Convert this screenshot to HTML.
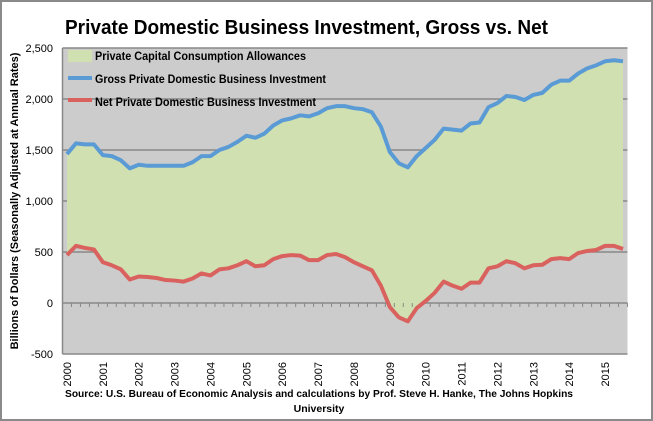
<!DOCTYPE html>
<html><head><meta charset="utf-8"><style>
body{margin:0;background:#fff}
svg{display:block;font-family:"Liberation Sans",sans-serif}
</style></head><body>
<svg width="653" height="421">
<rect x="1" y="1" width="651" height="419" fill="#fff" stroke="#8a8a8a" stroke-width="2"/>
<text x="65" y="34" font-size="20" font-weight="bold" fill="#000" textLength="483" lengthAdjust="spacingAndGlyphs">Private Domestic Business Investment, Gross vs. Net</text>
<rect x="62.5" y="48" width="565" height="306" fill="#cccccc"/>
<g id="grid"></g>
<path id="area" fill="#d0e0b0"/>
<g id="axes"></g>
<polyline id="gross" fill="none" stroke="#5b9bd5" stroke-width="4" stroke-linejoin="round"/>
<polyline id="net" fill="none" stroke="#d9625e" stroke-width="4" stroke-linejoin="round"/>
<g>
<rect x="68" y="50" width="24" height="12" fill="#d0e0b0"/>
<text x="95" y="60" font-size="12" font-weight="bold" textLength="211" lengthAdjust="spacingAndGlyphs">Private Capital Consumption Allowances</text>
<line x1="68" y1="78" x2="92" y2="78" stroke="#5b9bd5" stroke-width="4"/>
<text x="95" y="83" font-size="12" font-weight="bold" textLength="231" lengthAdjust="spacingAndGlyphs">Gross Private Domestic Business Investment</text>
<line x1="68" y1="100" x2="92" y2="100" stroke="#d9625e" stroke-width="4"/>
<text x="95" y="106" font-size="12" font-weight="bold" textLength="221" lengthAdjust="spacingAndGlyphs">Net Private Domestic Business Investment</text>
</g>
<text transform="translate(18,201) rotate(-90)" text-anchor="middle" font-size="11" font-weight="bold">Billions of Dollars (Seasonally Adjusted at Annual Rates)</text>
<text x="319" y="397" text-anchor="middle" font-size="10.5" font-weight="bold" textLength="508" lengthAdjust="spacingAndGlyphs">Source: U.S. Bureau of Economic Analysis and calculations by Prof. Steve H. Hanke, The Johns Hopkins</text>
<text x="319" y="412" text-anchor="middle" font-size="10.5" font-weight="bold">University</text>
</svg>
<script>
const years=['2000','2001','2002','2003','2004','2005','2006','2007','2008','2009','2010','2011','2012','2013','2014','2015'];
const yTicks=[-500,0,500,1000,1500,2000,2500];
const yTickLabels=['-500','0','500','1,000','1,500','2,000','2,500'];
const gross=[1460,1565,1555,1555,1450,1440,1400,1320,1355,1345,1345,1345,1345,1345,1380,1440,1440,1500,1530,1580,1640,1620,1660,1740,1790,1810,1840,1830,1860,1910,1930,1930,1910,1900,1870,1730,1480,1370,1330,1440,1520,1600,1710,1700,1690,1760,1770,1920,1960,2030,2020,1990,2040,2060,2140,2180,2180,2250,2300,2330,2370,2380,2370];
const net=[470,560,540,525,400,370,330,230,260,255,245,225,220,210,240,290,270,330,340,370,410,360,370,430,460,470,465,420,420,470,480,450,400,360,320,170,-40,-140,-180,-50,20,100,210,170,140,200,200,340,360,410,390,340,370,375,430,440,430,490,510,520,560,560,530];
const NS='http://www.w3.org/2000/svg';
const L=62.5,R=627.5,T=48,B=354,yMin=-500,yMax=2500;
const n=gross.length, step=(R-L)/n;
const xs=i=>L+step*(i+0.5);
const ys=v=>B-(v-yMin)/(yMax-yMin)*(B-T);
function mk(tag,at,parent){const e=document.createElementNS(NS,tag);for(const k in at)e.setAttribute(k,at[k]);parent.appendChild(e);return e;}
const grid=document.getElementById('grid'),axes=document.getElementById('axes');
yTicks.forEach((v,i)=>{
  const g=mk('line',{x1:L,x2:R,y1:ys(v),y2:ys(v),stroke:'#888','stroke-width':1.5},grid);
  
  
  const t=mk('text',{x:53,y:ys(v)+4,'text-anchor':'end','font-size':11},axes);
  t.textContent=yTickLabels[i];
  
  
});
const ax=mk('line',{x1:L,x2:L,y1:T,y2:B,stroke:'#888','stroke-width':1.5},axes);


for(let i=0;i<=n;i++){
  const tk=mk('line',{x1:L+step*i,x2:L+step*i,y1:ys(0),y2:ys(0)+4,stroke:'#888','stroke-width':1},axes);
  
  
}
years.forEach((y,i)=>{
  const x=xs(i*4);
  const t=mk('text',{transform:`translate(${x+4},${362}) rotate(-90)`,'text-anchor':'end','font-size':11},axes);
  t.textContent=y;
  
  
});
const gp=gross.map((v,i)=>xs(i)+','+ys(v));
const np=net.map((v,i)=>xs(i)+','+ys(v));
document.getElementById('gross').setAttribute('points',gp.join(' '));
document.getElementById('net').setAttribute('points',np.join(' '));
document.getElementById('area').setAttribute('d','M'+gp.join(' L')+' L'+np.slice().reverse().join(' L')+' Z');
</script>
</body></html>
